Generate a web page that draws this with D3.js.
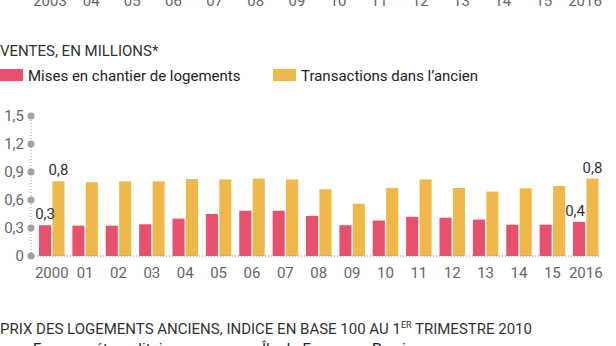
<!DOCTYPE html>
<html>
<head>
<meta charset="utf-8">
<script src="https://cdn.jsdelivr.net/npm/d3@7"></script>
<style>
  body { margin: 0; background: #fff; }
  svg { display: block; font-family: "Source Sans Pro", Roboto, "Noto Sans", sans-serif; }
</style>
</head>
<body>
<div id="chart"></div>
<script>
// Data
//= ================================
var years = ["2000", "01", "02", "03", "04", "05", "06", "07", "08", "09", "10", "11", "12", "13", "14", "15", "2016"];
var misesEnChantier = [0.33, 0.325, 0.325, 0.34, 0.40, 0.45, 0.485, 0.485, 0.43, 0.33, 0.38, 0.42, 0.41, 0.39, 0.335, 0.335, 0.365];
var transactions = [0.80, 0.79, 0.80, 0.80, 0.825, 0.82, 0.83, 0.82, 0.715, 0.56, 0.73, 0.82, 0.73, 0.69, 0.725, 0.75, 0.83];
var yTicks = [0, 0.3, 0.6, 0.9, 1.2, 1.5];
var seriesNames = ["Mises en chantier de logements", "Transactions dans l\u2019ancien"];
// previous chart's axis, cut at the top of the frame
var prevYears = ["2003", "04", "05", "06", "07", "08", "09", "10", "11", "12", "13", "14", "15", "2016"];
var nextLegend = ["France m\u00e9tropolitaine", "\u00cele-de-France", "Province"];

var pink = "#e9506e";
var yellow = "#efb84b";

var svgWidth = 616;
var svgHeight = 346;

var svg = d3.select("#chart")
  .append("svg")
  .attr("width", svgWidth)
  .attr("height", svgHeight);

var fr = d3.formatLocale({ decimal: ",", thousands: " ", grouping: [3], currency: ["", " €"] });
var fmt = fr.format(".1f");

// Cut-off axis of the chart above
var xPrev = d3.scalePoint().domain(prevYears).range([50, 585]);
svg.append("g").selectAll("text")
  .data(prevYears)
  .enter()
  .append("text")
  .attr("x", d => xPrev(d))
  .attr("y", 6)
  .attr("text-anchor", "middle")
  .attr("font-size", "15px")
  .attr("fill", "#666")
  .text(d => d);

// Title and legend
svg.append("text")
  .attr("x", 0)
  .attr("y", 56)
  .attr("font-size", "15px")
  .attr("fill", "#333")
  .text("VENTES, EN MILLIONS*");

var legend = svg.append("g");
var legendX = [0, 273];
[pink, yellow].forEach(function(c, i) {
  legend.append("rect")
    .attr("x", legendX[i])
    .attr("y", 69)
    .attr("width", 23)
    .attr("height", 12)
    .attr("fill", c);
  legend.append("text")
    .attr("x", legendX[i] + 28)
    .attr("y", 81)
    .attr("font-size", "15px")
    .attr("fill", "#222")
    .text(seriesNames[i]);
});

// Scales
var x0 = d3.scaleBand()
  .domain(years)
  .range([39, 598.5])
  .paddingInner(0.236)
  .paddingOuter(0);

var x1 = d3.scaleBand()
  .domain([0, 1])
  .range([0, x0.bandwidth()])
  .paddingInner(0.1);

var y = d3.scaleLinear()
  .domain([0, 1.5])
  .range([256, 116]);

var axisX = 31;

// dotted y axis with round markers
svg.append("line")
  .attr("x1", axisX).attr("x2", axisX)
  .attr("y1", y(0)).attr("y2", y(1.5))
  .attr("stroke", "#999")
  .attr("stroke-dasharray", "1,2");

var yAxis = svg.append("g");
yAxis.selectAll("circle")
  .data(yTicks)
  .enter()
  .append("circle")
  .attr("cx", axisX)
  .attr("cy", d => y(d))
  .attr("r", 3.6)
  .attr("fill", "#a3a3a3");

yAxis.selectAll("text")
  .data(yTicks)
  .enter()
  .append("text")
  .attr("x", axisX - 7)
  .attr("y", d => y(d))
  .attr("dy", "0.35em")
  .attr("text-anchor", "end")
  .attr("font-size", "15px")
  .attr("fill", "#666")
  .text(d => d === 0 ? "0" : fmt(d));

// Bars
var groups = svg.append("g").selectAll("g")
  .data(years.map((yr, i) => ({ year: yr, values: [misesEnChantier[i], transactions[i]] })))
  .enter()
  .append("g")
  .attr("transform", d => `translate(${x0(d.year)},0)`);

groups.selectAll("rect")
  .data(d => d.values)
  .enter()
  .append("rect")
  .attr("x", (d, i) => x1(i))
  .attr("y", d => y(d))
  .attr("width", x1.bandwidth())
  .attr("height", d => y(0) - y(d))
  .attr("fill", (d, i) => i === 0 ? pink : yellow);

// baseline
svg.append("line")
  .attr("x1", axisX).attr("x2", 600)
  .attr("y1", y(0)).attr("y2", y(0))
  .attr("stroke", "#888")
  .attr("stroke-dasharray", "1,2");

// Year labels
svg.append("g").selectAll("text")
  .data(years)
  .enter()
  .append("text")
  .attr("x", d => x0(d) + x0.bandwidth() / 2)
  .attr("y", 278)
  .attr("text-anchor", "middle")
  .attr("font-size", "15px")
  .attr("fill", "#666")
  .text(d => d);

// Value labels on first and last years
var labelled = [0, years.length - 1];
labelled.forEach(function(i) {
  [misesEnChantier[i], transactions[i]].forEach(function(v, s) {
    svg.append("text")
      .attr("x", x0(years[i]) + x1(s) + x1.bandwidth() / 2 - (i > 0 && s === 0 ? 4 : 0))
      .attr("y", y(v) - 6)
      .attr("text-anchor", "middle")
      .attr("font-size", "15px")
      .attr("fill", "#333")
      .text(fmt(v));
  });
});

// Next chart heading, cut at the bottom of the frame
svg.append("text")
  .attr("x", 0)
  .attr("y", 334)
  .attr("font-size", "15px")
  .attr("fill", "#333")
  .text("PRIX DES LOGEMENTS ANCIENS, INDICE EN BASE 100 AU 1")
  .append("tspan")
  .attr("font-size", "9px")
  .attr("dy", "-6")
  .text("ER")
  .append("tspan")
  .attr("font-size", "15px")
  .attr("dy", "6")
  .text(" TRIMESTRE 2010");

var nextX = [33, 262, 372];
svg.append("g").selectAll("text")
  .data(nextLegend)
  .enter()
  .append("text")
  .attr("x", (d, i) => nextX[i])
  .attr("y", 354)
  .attr("font-size", "15px")
  .attr("fill", "#222")
  .text(d => d);
</script>
</body>
</html>
